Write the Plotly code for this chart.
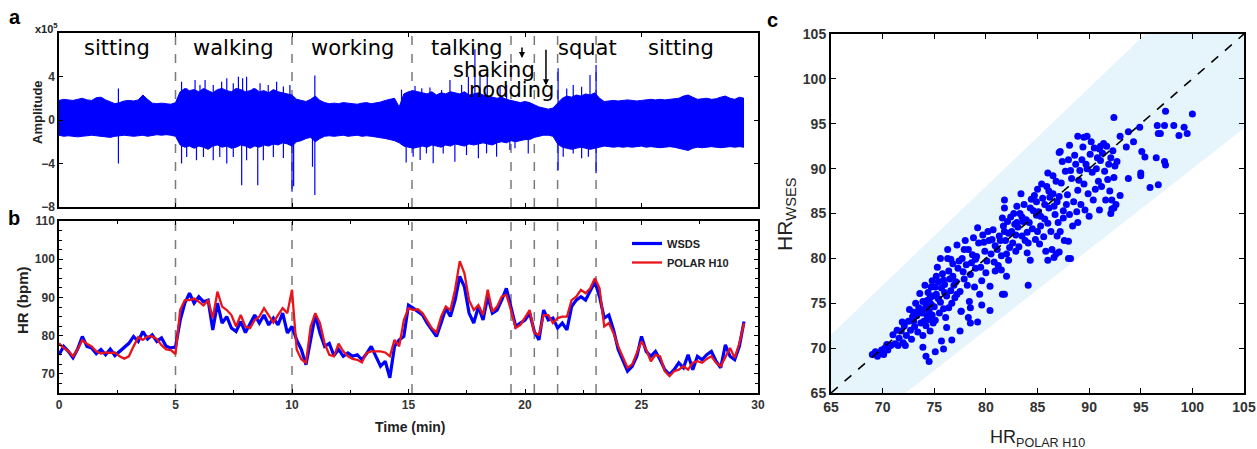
import plotly.graph_objects as go

# ---------------- DATA ----------------
SAMPLE_STEP_MIN = 0.2  # sampling step of the read-off series (min)

# Panel b: heart rate (bpm) read every 0.2 min from t = 0 to 29.4 min
hr_wsds = [
    75, 77.2, 75.9, 74.2, 76.5, 79.8, 77.2, 76.8, 75.3, 76.4, 75, 76.5, 74.8, 75.9, 76.8, 78, 79.8, 78.5, 81.1, 79.1, 80.2, 78.5, 79.4, 77.2, 76.8, 77,
    84, 88.5, 91.1, 88.5, 90.2, 88.9, 89.3, 81.5, 88.5, 83.3, 85, 82, 81.1, 83.7, 80.8, 83.3, 85.4, 83.3, 85.4, 82.8, 84.6, 82.8, 85.9, 80.7, 82.4,
    78.9, 76.4, 72.4, 78.9, 85.4, 80.7, 77.2, 78, 74.8, 76.4, 74.6, 75.5, 74.6, 75, 73.7, 75.3, 77.2, 74.6, 72, 73.3, 69, 77.2, 78.9, 79.8, 88,
    87.2, 86.3, 85.4, 83.3, 81.5, 79.8, 83.3, 87.2, 85, 89.3, 95.5, 92.8, 85.9, 83.3, 87.6, 84.1, 90.2, 85.9, 86.7, 89.3, 92.4, 87.6, 82.4, 83.3, 84.1,
    85.9, 81.1, 78.9, 86.7, 84.1, 84.6, 82, 83.3, 81.5, 87.6, 89.3, 90.2, 89.3, 91.5, 94.1, 90.2, 84.6, 85.4, 81.5, 76.4, 73.7, 70.7, 72, 74.6, 79.8,
    75.9, 74.6, 75.9, 73.7, 71.1, 69.8, 71.1, 72.9, 71.6, 75, 71.1, 74.6, 73.7, 75, 75.9, 73.3, 71.6, 77.6, 74.6, 73.7, 77.2, 83.7,
]
hr_polar = [
    78, 76.8, 76, 74.6, 76.4, 78.8, 77.9, 77.2, 75.9, 75.3, 75.6, 75.5, 75.6, 74.6, 74, 74.6, 77.2, 79.6, 78.9, 79.8, 79.8, 79.1, 77.5, 76.4, 76.2, 75.2,
    86.7, 89.3, 89.3, 89.7, 88.9, 87.9, 89.3, 84.6, 91.5, 87.6, 86.7, 85.4, 82.4, 85.4, 82.4, 82, 84.1, 85, 87.2, 85.4, 83.4, 85.4, 87.2, 85.9, 92,
    76.4, 73.8, 72.9, 82.4, 85.9, 83.3, 78, 75, 74.6, 77.9, 75.9, 74.6, 73.9, 73.7, 73, 75.5, 75.9, 75.9, 75.9, 75.6, 74.6, 78.9, 77.2, 84.1, 87.2,
    86.7, 86.9, 85.9, 84.1, 82, 80.8, 85, 87.6, 86.7, 92, 99.5, 96.3, 89.3, 86.7, 88, 85.4, 92, 86.3, 87.6, 90.2, 90.7, 86.7, 82, 82.8, 84.6,
    86.7, 80.7, 80.2, 85.4, 85.4, 83.3, 84.6, 85, 85, 89.3, 90.2, 92, 91.1, 92.4, 95, 92.4, 82.4, 83.3, 80.7, 77.2, 74.6, 71.6, 72.5, 75.5, 78.5,
    76.4, 73.3, 75, 74.6, 70.7, 69.4, 70.7, 71.1, 72, 71.1, 72.9, 73.3, 72.9, 73.9, 74.6, 72.9, 72, 74.2, 76.8, 74.2, 78, 83.3,
]

# Panel a: signal envelope (x10^5) on the same 0.2-min grid
amp_upper = [
    1.8, 1.9, 1.85, 1.8, 1.9, 2.0, 1.85, 1.8, 2.05, 2.1, 1.85, 1.7, 1.5, 1.6, 1.75, 1.8, 1.75, 1.85, 2.3, 1.9, 1.55, 1.5, 1.55, 1.5, 1.45, 1.6,
    2.6, 2.9, 2.7, 2.8, 2.6, 2.9, 2.7, 2.5, 2.8, 2.9, 2.7, 2.6, 2.9, 2.8, 2.6, 2.7, 2.9, 2.6, 2.7, 2.5, 2.8, 2.6, 2.5, 2.4, 2.3,
    1.9, 1.8, 1.7, 1.9, 2.2, 1.8, 1.6, 1.5, 1.55, 1.5, 1.6, 1.55, 1.5, 1.45, 1.55, 1.6, 1.5, 1.55, 1.65, 1.8, 1.9, 2.0, 1.2, 2.4, 2.6,
    2.7, 2.6, 2.5, 2.4, 2.6, 2.3, 2.5, 2.4, 2.6, 2.5, 2.4, 2.6, 2.3, 2.4, 2.5, 2.3, 2.2, 2.1, 2.0, 2.1, 1.9, 1.8, 1.7, 1.6, 1.7,
    1.6, 1.4, 1.2, 1.1, 1.0, 1.1, 1.6, 2.0, 2.2, 2.1, 2.3, 2.2, 2.4, 2.3, 2.5, 2.0, 1.7, 1.75, 1.8, 1.75, 1.8, 1.85, 1.8, 1.75, 1.8,
    1.85, 1.9, 1.85, 1.9, 1.85, 1.9, 1.95, 2.0, 2.2, 2.3, 2.1, 1.9, 1.95, 2.0, 1.9, 1.95, 2.1, 2.2, 2.0, 1.9, 2.1, 2.0,
]
amp_lower = [
    -1.4, -1.5, -1.45, -1.5, -1.55, -1.5, -1.45, -1.4, -1.45, -1.5, -1.55, -1.6, -1.5, -1.45, -1.4, -1.45, -1.5, -1.45, -1.4, -1.5, -1.4, -1.35, -1.4, -1.35, -1.4, -1.5,
    -2.3, -2.5, -2.4, -2.6, -2.4, -2.5, -2.7, -2.4, -2.3, -2.5, -2.4, -2.6, -2.5, -2.3, -2.4, -2.6, -2.4, -2.5, -2.3, -2.4, -2.2, -2.3, -2.1, -2.2, -2.4,
    -2.0, -1.9, -1.7, -1.6, -2.0, -1.7, -1.5, -1.45, -1.5, -1.45, -1.4, -1.5, -1.45, -1.4, -1.5, -1.45, -1.5, -1.55, -1.6, -1.7, -1.8, -1.9, -2.1, -2.4, -2.5,
    -2.6, -2.5, -2.4, -2.5, -2.3, -2.4, -2.5, -2.3, -2.4, -2.2, -2.3, -2.4, -2.2, -2.3, -2.2, -2.1, -2.2, -2.3, -2.1, -2.0, -2.1, -1.9, -2.0, -1.9, -1.8,
    -1.8, -1.6, -1.5, -1.4, -1.4, -1.5, -2.2, -2.5, -2.6, -2.7, -2.6, -2.5, -2.6, -2.7, -2.6, -2.5, -2.4, -2.45, -2.5, -2.45, -2.5, -2.45, -2.5, -2.45, -2.4,
    -2.5, -2.45, -2.5, -2.55, -2.5, -2.45, -2.5, -2.6, -2.75, -2.8, -2.6, -2.5, -2.55, -2.5, -2.45, -2.5, -2.55, -2.5, -2.45, -2.5, -2.45, -2.5,
]
# Panel a: isolated spikes (time in min, peak in x10^5)
spike_t = [2.55, 2.55, 3.6,
           5.26, 5.48, 5.84, 6.05, 6.27, 6.62, 6.98, 7.2, 7.48, 7.7, 7.88, 8.05, 8.34, 8.63, 8.98, 9.34, 9.63, 9.91,
           5.26, 5.48, 5.9, 6.2, 6.62, 6.9, 7.2, 7.48, 7.84, 8.05, 8.53, 8.77, 9.2, 9.63, 10.0, 10.07,
           10.98, 10.98, 10.88, 14.7, 14.9,
           15.28, 15.57, 15.92, 16.42, 16.78, 17.28, 17.57, 17.85, 18.07, 18.38, 18.93, 19.21,
           15.2, 15.5, 15.77, 16.06, 16.49, 16.99, 17.49, 18.0, 18.35, 18.78, 19.35, 19.57, 20.14,
           21.42, 21.79, 22.07, 22.43, 22.79, 23.05,
           21.42, 21.64, 22.07, 22.43, 22.72, 23.05]
spike_v = [2.9, -4.0, 2.3,
           3.52, 2.91, 3.68, 3.22, 3.68, 3.22, 3.52, 3.83, 3.37, 3.98, 3.83, 3.98, 2.91, 3.37, 3.22, 3.52, 3.07, 3.22,
           -4.0, -3.4, -3.7, -3.4, -3.7, -3.4, -4.0, -3.4, -6.0, -3.7, -6.0, -3.7, -3.4, -3.5, -6.6, -6.1,
           4.1, -6.9, -4.3, 2.8, -3.9,
           3.13, 2.91, 3.0, 2.76, 3.68, 3.22, 3.98, 6.5, 4.44, 4.44, 3.06, 3.22,
           -3.37, -3.68, -3.07, -3.98, -3.07, -3.83, -3.22, -3.52, -3.07, -3.37, -2.76, -2.6, -3.07,
           4.75, 2.9, 3.22, 3.06, 4.14, 5.06,
           -4.6, -3.37, -3.07, -3.52, -3.37, -4.9]

# Activity phase boundaries (min) and labels
phase_boundaries = [5.0, 10.0, 15.15, 19.4, 20.4, 21.4, 23.05]
activity_labels = ["sitting", "walking", "working", "talking", "shaking", "nodding", "squat", "sitting"]

# Panel c: paired HR values (POLAR H10, WSES)
scatter_points = [
    # outliers / sparse region
    (92.4, 95.7), (97.4, 96.4), (100.0, 96.1), (96.6, 94.8), (97.3, 94.8), (98.2, 94.8), (99.2, 94.6),
    (96.7, 93.9), (96.9, 93.9), (98.7, 93.7), (99.5, 93.9), (94.9, 94.6), (93.8, 94.1), (93.0, 93.6),
    (93.6, 92.4), (94.3, 93.0), (95.1, 91.9), (95.4, 91.3), (96.5, 91.2), (97.3, 90.8), (97.4, 90.4),
    (93.8, 88.9), (95.0, 89.5), (95.0, 89.2), (95.9, 87.9), (96.7, 88.2), (93.0, 87.0), (92.2, 86.5),
    (92.1, 85.0), (92.4, 85.6), (91.0, 85.4), (88.2, 80.0), (88.0, 80.0), (86.0, 79.8), (86.6, 80.1),
    (87.1, 80.7), (84.1, 77.0), (81.6, 76.0), (81.8, 76.0), (80.4, 74.2), (79.6, 74.8), (79.2, 72.9),
    (78.5, 72.8), (77.5, 71.9), (76.7, 70.9), (75.7, 70.8), (75.9, 69.9), (75.1, 69.6), (73.9, 70.1),
    (74.2, 69.1), (74.5, 68.5), (76.2, 72.3), (77.6, 74.1), (78.5, 74.5), (82.0, 78.0), (81.5, 78.7),
    (81.8, 86.5), (81.8, 85.6), (82.2, 82.8), (91.1, 92.5), (87.1, 91.8), (88.1, 92.6), (88.9, 93.6),
    (89.8, 93.6),
    # 69-71
    (69.0, 69.3), (69.3, 69.6), (69.6, 69.4), (69.9, 69.8), (70.2, 70.0), (70.5, 69.8), (70.4, 70.4),
    (70.8, 70.3), (70.1, 69.3), (69.5, 69.1),
    # 71-73
    (71.0, 71.5), (71.2, 70.5), (71.4, 72.0), (71.6, 71.1), (71.8, 71.9), (72.0, 70.6), (72.1, 72.5),
    (72.3, 71.4), (72.5, 73.0), (72.7, 72.0), (72.9, 73.5), (71.5, 70.3), (72.2, 70.3), (72.8, 71.0),
    (71.9, 72.9), (72.6, 74.3), (73.0, 74.0),
    # 73-75
    (73.1, 72.4), (73.3, 73.6), (73.5, 74.5), (73.7, 72.8), (73.9, 75.2), (73.2, 75.0), (73.4, 71.8),
    (73.8, 73.9), (74.0, 74.3), (74.2, 72.5), (74.4, 76.2), (74.5, 73.2), (74.7, 74.9), (74.9, 75.8),
    (74.1, 77.0), (74.3, 75.3), (74.6, 71.9), (74.8, 77.5), (73.6, 76.1), (74.0, 73.0), (74.9, 72.8),
    (74.5, 74.1), (73.9, 71.4), (74.8, 73.7), (74.2, 74.8), (73.0, 73.0), (74.6, 75.6), (73.4, 74.0),
    (74.3, 73.6), (74.7, 76.8),
    # 75-77
    (75.0, 74.6), (75.2, 76.0), (75.4, 77.4), (75.6, 75.1), (75.8, 78.3), (75.1, 73.1), (75.3, 79.0),
    (75.5, 73.9), (75.7, 76.7), (75.9, 74.4), (76.0, 77.1), (76.2, 75.8), (76.4, 78.6), (76.6, 76.4),
    (76.8, 79.4), (76.1, 73.4), (76.3, 80.0), (76.5, 77.7), (76.7, 75.0), (76.9, 77.0), (75.2, 78.0),
    (75.6, 80.0), (76.0, 76.2), (76.4, 74.5), (75.4, 75.5), (75.9, 77.6), (76.8, 78.0), (75.1, 76.8),
    (76.3, 81.0), (76.6, 79.9), (77.0, 75.6),
    # 77-79
    (77.1, 77.4), (77.3, 78.9), (77.5, 76.3), (77.7, 80.0), (77.9, 77.7), (78.1, 79.3), (78.3, 81.0),
    (78.5, 78.2), (78.7, 80.4), (78.9, 76.8), (77.2, 81.5), (77.6, 74.1), (78.0, 82.0), (78.4, 75.2),
    (78.8, 82.3), (77.4, 79.7), (78.2, 77.0), (78.6, 79.5), (77.8, 78.5), (79.0, 78.9), (77.2, 76.0),
    (78.3, 73.4), (77.9, 81.0),
    # 79-81
    (79.1, 80.2), (79.3, 81.7), (79.5, 79.0), (79.7, 82.6), (79.9, 80.8), (80.1, 79.7), (80.3, 82.0),
    (80.5, 80.5), (80.7, 83.2), (80.9, 81.4), (79.2, 83.4), (79.6, 77.5), (80.0, 78.4), (80.4, 76.9),
    (80.8, 79.6), (79.4, 76.0), (79.8, 81.8), (80.2, 83.0), (80.6, 82.1), (79.0, 79.9), (80.9, 78.6),
    # 81-83
    (81.1, 81.0), (81.3, 82.5), (81.5, 80.3), (81.7, 83.6), (81.9, 82.0), (82.1, 84.1), (82.3, 81.2),
    (82.5, 83.0), (82.7, 85.0), (82.9, 82.6), (81.2, 79.2), (81.6, 84.5), (82.0, 80.5), (82.4, 84.6),
    (82.8, 83.8), (81.4, 82.0), (82.2, 79.8), (82.6, 81.7), (83.0, 84.0), (81.8, 83.0), (82.9, 80.8),
    # 83-85
    (83.1, 83.5), (83.3, 85.0), (83.5, 82.5), (83.7, 86.0), (83.9, 84.3), (84.1, 81.7), (84.3, 85.6),
    (84.5, 83.3), (84.7, 87.0), (84.9, 84.8), (83.2, 81.3), (83.6, 84.1), (84.0, 82.9), (84.4, 86.6),
    (84.8, 82.1), (83.4, 87.2), (83.8, 82.0), (84.2, 84.0), (84.6, 85.3), (85.0, 83.0), (83.0, 85.8),
    (84.0, 80.6), (84.9, 86.3), (83.5, 84.6), (84.3, 79.8),
    # 85-87
    (85.1, 85.2), (85.3, 83.6), (85.5, 86.7), (85.7, 84.4), (85.9, 88.0), (86.1, 85.6), (86.3, 83.0),
    (86.5, 87.2), (86.7, 84.9), (86.9, 86.3), (85.2, 81.6), (85.6, 82.4), (86.0, 89.5), (86.4, 81.0),
    (86.8, 88.6), (85.4, 88.3), (85.8, 80.8), (86.2, 86.8), (86.6, 85.8), (87.0, 84.0), (85.0, 87.7),
    (86.0, 83.9), (86.9, 82.5), (85.7, 86.0), (86.5, 89.2), (85.3, 84.7), (86.8, 80.5), (86.1, 87.5),
    # 87-89
    (87.1, 86.9), (87.3, 88.4), (87.5, 85.3), (87.7, 89.7), (87.9, 87.1), (88.1, 84.9), (88.3, 88.9),
    (88.5, 86.3), (88.7, 90.5), (88.9, 87.6), (87.2, 83.0), (87.6, 82.0), (88.0, 91.0), (88.4, 83.6),
    (88.8, 85.2), (87.4, 90.8), (87.8, 86.0), (88.2, 89.8), (88.6, 91.5), (89.0, 88.7), (87.5, 84.5),
    (88.0, 81.9), (88.9, 84.0), (87.2, 91.9),
    # 89-91
    (89.1, 89.8), (89.3, 91.0), (89.5, 88.3), (89.7, 90.5), (89.9, 87.2), (90.1, 91.6), (90.3, 89.6),
    (90.5, 92.3), (90.7, 90.0), (90.9, 88.6), (89.2, 86.0), (89.6, 85.4), (90.0, 84.7), (90.4, 86.5),
    (90.8, 91.2), (89.4, 92.4), (89.8, 90.0), (90.2, 93.0), (90.6, 87.7), (91.0, 92.2), (89.5, 93.5),
    # 91-93
    (91.1, 90.9), (91.3, 91.7), (91.5, 89.7), (91.7, 92.5), (91.9, 90.5), (92.1, 91.2), (92.3, 92.0),
    (92.5, 90.3), (91.2, 88.0), (91.6, 86.5), (92.0, 87.5), (92.4, 89.0), (91.4, 92.8), (91.8, 88.8),
    (92.2, 85.5), (92.6, 86.0), (92.7, 90.8),
]
hr_polar_c = [p[0] for p in scatter_points]
hr_wses_c = [p[1] for p in scatter_points]

AXIS_C = [65, 105]
BAND_LOW, BAND_HIGH = 0.9, 1.1  # +/-10 % agreement band

# ---------------- GEOMETRY ----------------
FIG_W, FIG_H = 1257, 449


def px(x):  # window pixel -> paper x
    return x / FIG_W


def py(y):  # window pixel -> paper y
    return 1 - y / FIG_H


# ---------------- FIGURE ----------------
time_min = [round(i * SAMPLE_STEP_MIN, 2) for i in range(len(hr_polar))]

BLUE = "#0000ff"
RED = "#e8141a"
GRID_DASH = "#7a7a7a"
TICK_FONT = dict(family="Liberation Sans", size=12, color="#333333", weight="bold")
TICK_FONT_C = dict(family="Liberation Sans", size=14, color="#333333", weight="bold")

fig = go.Figure()

# panel a: signal envelope + spikes
fig.add_trace(go.Scatter(x=time_min, y=amp_upper, mode="lines", line=dict(color=BLUE, width=1),
                         showlegend=False, xaxis="x", yaxis="y", hoverinfo="skip"))
fig.add_trace(go.Scatter(x=time_min, y=amp_lower, mode="lines", line=dict(color=BLUE, width=1),
                         fill="tonexty", fillcolor=BLUE, showlegend=False, xaxis="x", yaxis="y",
                         hoverinfo="skip"))
sx, sy = [], []
for t, v in zip(spike_t, spike_v):
    sx += [t, t, None]
    sy += [0, v, None]
fig.add_trace(go.Scatter(x=sx, y=sy, mode="lines", line=dict(color=BLUE, width=1.2),
                         showlegend=False, xaxis="x", yaxis="y", hoverinfo="skip"))

# panel b
fig.add_trace(go.Scatter(x=time_min, y=hr_wsds, mode="lines", name="WSDS",
                         line=dict(color=BLUE, width=3.2), xaxis="x2", yaxis="y2"))
fig.add_trace(go.Scatter(x=time_min, y=hr_polar, mode="lines", name="POLAR H10",
                         line=dict(color=RED, width=2.3), xaxis="x2", yaxis="y2"))

# panel c
fig.add_trace(go.Scatter(
    x=[AXIS_C[0], AXIS_C[1], AXIS_C[1], AXIS_C[0]],
    y=[AXIS_C[0] * BAND_LOW, AXIS_C[1] * BAND_LOW, AXIS_C[1] * BAND_HIGH, AXIS_C[0] * BAND_HIGH],
    fill="toself", fillcolor="#e6f4fc", mode="lines", line=dict(width=0),
    showlegend=False, xaxis="x3", yaxis="y3", hoverinfo="skip"))
fig.add_trace(go.Scatter(x=hr_polar_c, y=hr_wses_c, mode="markers",
                         marker=dict(color=BLUE, size=7, line=dict(width=0)),
                         showlegend=False, xaxis="x3", yaxis="y3"))
fig.add_trace(go.Scatter(x=AXIS_C, y=AXIS_C, mode="lines", line=dict(color="black", width=1.6, dash="dash"),
                         showlegend=False, xaxis="x3", yaxis="y3", hoverinfo="skip"))

# phase boundary dashed lines
shapes = []
for b in phase_boundaries:
    for xr, yr in (("x", "y domain"), ("x2", "y2 domain")):
        shapes.append(dict(type="line", xref=xr, yref=yr, x0=b, x1=b, y0=0, y1=1, layer="below",
                           line=dict(color=GRID_DASH, width=1.5, dash="dash")))

common_axis = dict(showline=True, linecolor="black", mirror="ticks", ticks="inside", automargin=False,
                   tickcolor="black", showgrid=False, zeroline=False)

XD = [px(59), px(758)]
fig.update_layout(
    width=FIG_W, height=FIG_H, margin=dict(l=0, r=0, t=0, b=0, autoexpand=False),
    paper_bgcolor="white", plot_bgcolor="white",
    shapes=shapes,
    xaxis=dict(domain=XD, range=[0, 30], dtick=5, showticklabels=False, ticklen=4, linewidth=1.5,
               anchor="y", **common_axis),
    yaxis=dict(domain=[py(207), py(33)], range=[-8, 8], tickvals=[-8, -4, 0, 4], ticklen=4,
               linewidth=1.5, anchor="x", tickfont=TICK_FONT, **common_axis),
    xaxis2=dict(domain=XD, range=[0, 30], dtick=5, ticklen=4, linewidth=1.5, anchor="y2",
                minor=dict(dtick=2.5, ticks="inside", ticklen=3, tickcolor="black"),
                tickfont=TICK_FONT, **common_axis),
    yaxis2=dict(domain=[py(393), py(221)], range=[65, 110], tickvals=[70, 80, 90, 100, 110],
                ticklen=4, linewidth=1.5, anchor="x2",
                minor=dict(dtick=2.5, tick0=65, ticks="inside", ticklen=3, tickcolor="black"),
                tickfont=TICK_FONT, **common_axis),
    xaxis3=dict(domain=[px(831), px(1244)], range=AXIS_C, dtick=5, ticklen=5, linewidth=2, anchor="y3",
                tickfont=TICK_FONT_C, **common_axis),
    yaxis3=dict(domain=[py(393), py(34)], range=AXIS_C, dtick=5, ticklen=5, linewidth=2, anchor="x3",
                tickfont=TICK_FONT_C, **common_axis),
    legend=dict(x=px(627), y=py(229), xanchor="left", yanchor="top", bgcolor="rgba(0,0,0,0)",
                font=dict(family="Liberation Sans", size=11, color="#222", weight="bold"),
                itemwidth=30, tracegroupgap=0, traceorder="normal"),
)

ann = []
# activity labels in panel a
label_t = [2.49, 7.47, 12.6, 17.5, 18.67, 19.44, 22.7, 26.7]
label_v = [6.6, 6.6, 6.6, 6.6, 4.6, 2.8, 6.6, 6.6]
for txt, t, v in zip(activity_labels, label_t, label_v):
    ann.append(dict(x=t, y=v, xref="x", yref="y", text=txt, showarrow=False,
                    xanchor="center", yanchor="middle",
                    font=dict(family="DejaVu Sans", size=21, color="black")))
# arrows for shaking / nodding
ann.append(dict(x=19.87, y=5.7, xref="x", yref="y", ax=19.87, ay=6.8, axref="x", ayref="y", text="",
                showarrow=True, arrowhead=2, arrowsize=0.8, arrowwidth=1.5, arrowcolor="black"))
ann.append(dict(x=20.9, y=3.2, xref="x", yref="y", ax=20.9, ay=6.6, axref="x", ayref="y", text="",
                showarrow=True, arrowhead=2, arrowsize=0.8, arrowwidth=1.5, arrowcolor="black"))


def paper_text(text, x, y, font, angle=0):
    ann.append(dict(x=px(x), y=py(y), xref="paper", yref="paper", text=text, textangle=angle,
                    xanchor="center", yanchor="middle", showarrow=False, font=font))


# axis titles
TITLE_B = dict(family="Liberation Sans", color="#222", weight="bold")
paper_text("Amplitude", 37, 112, dict(size=13, **TITLE_B), -90)
paper_text("HR (bpm)", 22, 300, dict(size=15, **TITLE_B), -90)
paper_text("Time (min)", 410, 427, dict(size=14, **TITLE_B))
paper_text("HR<sub>WSES</sub>", 786, 214, dict(family="Liberation Sans", size=21, color="#222"), -90)
paper_text("HR<sub>POLAR H10</sub>", 1037, 438, dict(family="Liberation Sans", size=18, color="#222"))
# panel letters & exponent
for txt, lx, ly in (("a", 15, 17), ("b", 14, 218), ("c", 772, 20)):
    paper_text(txt, lx, ly, dict(family="Liberation Sans", size=20, color="black", weight="bold"))
paper_text("x10<sup>5</sup>", 46, 28, dict(family="Liberation Sans", size=11, color="#222", weight="bold"))
fig.update_layout(annotations=ann)

# remove the default 8 px page margin so the figure fills the window exactly
fig.write_html("out.html", config={"displayModeBar": False},
               post_script="document.body.style.margin='0px';document.body.style.overflow='hidden';")
